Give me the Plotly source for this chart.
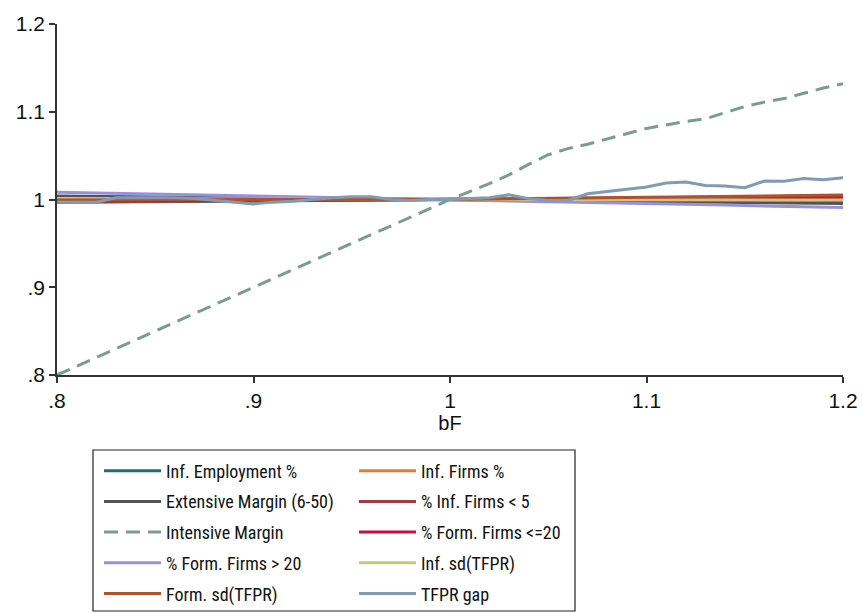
import plotly.graph_objects as go

bF = [0.80, 0.81, 0.82, 0.83, 0.84, 0.85, 0.86, 0.87, 0.88, 0.89,
      0.90, 0.91, 0.92, 0.93, 0.94, 0.95, 0.96, 0.97, 0.98, 0.99,
      1.00, 1.01, 1.02, 1.03, 1.04, 1.05, 1.06, 1.07, 1.08, 1.09,
      1.10, 1.11, 1.12, 1.13, 1.14, 1.15, 1.16, 1.17, 1.18, 1.19, 1.20]

inf_employment = [0.9968, 0.9969, 0.9971, 0.9972, 0.9974, 0.9975, 0.9977, 0.9978, 0.9980, 0.9981,
                  0.9983, 0.9985, 0.9986, 0.9988, 0.9990, 0.9991, 0.9993, 0.9995, 0.9996, 0.9998,
                  1.0000, 0.9999, 0.9999, 0.9998, 0.9998, 0.9997, 0.9997, 0.9996, 0.9996, 0.9995,
                  0.9995, 0.9994, 0.9994, 0.9993, 0.9993, 0.9992, 0.9992, 0.9991, 0.9991, 0.9990, 0.9990]
inf_firms = [0.9980, 0.9981, 0.9982, 0.9983, 0.9984, 0.9985, 0.9986, 0.9987, 0.9988, 0.9989,
             0.9990, 0.9991, 0.9992, 0.9993, 0.9994, 0.9995, 0.9996, 0.9997, 0.9998, 0.9999,
             1.0000, 1.0002, 1.0003, 1.0005, 1.0006, 1.0008, 1.0009, 1.0011, 1.0012, 1.0014,
             1.0015, 1.0017, 1.0018, 1.0020, 1.0021, 1.0023, 1.0024, 1.0026, 1.0027, 1.0029, 1.0030]
extensive = [1.0040, 1.0038, 1.0036, 1.0034, 1.0032, 1.0030, 1.0028, 1.0026, 1.0024, 1.0022,
             1.0020, 1.0018, 1.0016, 1.0014, 1.0012, 1.0010, 1.0008, 1.0006, 1.0004, 1.0002,
             1.0000, 0.9998, 0.9996, 0.9993, 0.9991, 0.9989, 0.9987, 0.9984, 0.9982, 0.9980,
             0.9978, 0.9975, 0.9973, 0.9971, 0.9969, 0.9966, 0.9964, 0.9962, 0.9960, 0.9957, 0.9955]
inf_firms_lt5 = [0.9972, 0.9973, 0.9975, 0.9976, 0.9978, 0.9979, 0.9980, 0.9982, 0.9983, 0.9985,
                 0.9986, 0.9987, 0.9989, 0.9990, 0.9992, 0.9993, 0.9994, 0.9996, 0.9997, 0.9999,
                 1.0000, 1.0002, 1.0004, 1.0006, 1.0008, 1.0010, 1.0012, 1.0014, 1.0016, 1.0018,
                 1.0020, 1.0022, 1.0024, 1.0026, 1.0028, 1.0030, 1.0032, 1.0034, 1.0036, 1.0038, 1.0040]
intensive = [0.800, 0.810, 0.820, 0.830, 0.840, 0.850, 0.860, 0.870, 0.880, 0.890,
             0.900, 0.910, 0.920, 0.930, 0.940, 0.950, 0.960, 0.970, 0.980, 0.990,
             1.000, 1.009, 1.018, 1.028, 1.040, 1.051, 1.058, 1.063, 1.069, 1.075,
             1.081, 1.085, 1.089, 1.092, 1.099, 1.106, 1.111, 1.115, 1.121, 1.127, 1.132]
form_firms_le20 = [0.9990, 0.9990, 0.9991, 0.9991, 0.9992, 0.9992, 0.9993, 0.9993, 0.9994, 0.9994,
                   0.9995, 0.9995, 0.9996, 0.9996, 0.9997, 0.9997, 0.9998, 0.9998, 0.9999, 0.9999,
                   1.0000, 1.0001, 1.0002, 1.0003, 1.0004, 1.0005, 1.0006, 1.0007, 1.0008, 1.0009,
                   1.0010, 1.0011, 1.0012, 1.0013, 1.0014, 1.0015, 1.0016, 1.0017, 1.0018, 1.0019, 1.0020]
form_firms_gt20 = [1.0082, 1.0078, 1.0074, 1.0070, 1.0066, 1.0062, 1.0058, 1.0054, 1.0050, 1.0046,
                   1.0042, 1.0038, 1.0034, 1.0030, 1.0026, 1.0021, 1.0017, 1.0013, 1.0008, 1.0004,
                   1.0000, 0.9995, 0.9991, 0.9986, 0.9982, 0.9977, 0.9972, 0.9968, 0.9963, 0.9959,
                   0.9954, 0.9949, 0.9945, 0.9940, 0.9936, 0.9931, 0.9926, 0.9922, 0.9917, 0.9913, 0.9908]
inf_sd_tfpr = [1.0010, 1.0010, 1.0009, 1.0009, 1.0008, 1.0008, 1.0007, 1.0007, 1.0006, 1.0006,
               1.0005, 1.0005, 1.0004, 1.0004, 1.0003, 1.0003, 1.0002, 1.0002, 1.0001, 1.0001,
               1.0000, 1.0000, 0.9999, 0.9999, 0.9999, 0.9998, 0.9998, 0.9998, 0.9997, 0.9997,
               0.9997, 0.9996, 0.9996, 0.9996, 0.9995, 0.9995, 0.9995, 0.9994, 0.9994, 0.9994, 0.9993]
form_sd_tfpr = [0.9995, 0.9995, 0.9996, 0.9996, 0.9996, 0.9996, 0.9997, 0.9997, 0.9997, 0.9997,
                0.9998, 0.9998, 0.9998, 0.9998, 0.9999, 0.9999, 0.9999, 0.9999, 1.0000, 1.0000,
                1.0000, 1.0003, 1.0005, 1.0008, 1.0010, 1.0013, 1.0015, 1.0018, 1.0020, 1.0023,
                1.0025, 1.0028, 1.0030, 1.0033, 1.0035, 1.0038, 1.0040, 1.0043, 1.0045, 1.0048, 1.0050]
tfpr_gap = [0.997, 0.997, 0.997, 1.002, 1.002, 1.002, 1.002, 1.001, 0.999, 0.997,
            0.995, 0.997, 0.998, 1.000, 1.002, 1.003, 1.003, 1.000, 0.999, 1.000,
            1.000, 1.001, 1.002, 1.0055, 1.001, 0.999, 0.999, 1.0066, 1.0093, 1.0123,
            1.0143, 1.0188, 1.020, 1.016, 1.0155, 1.0135, 1.021, 1.0209, 1.0238, 1.0226, 1.0249]

names = ["Inf. Employment %", "Inf. Firms %", "Extensive Margin (6-50)", "% Inf. Firms < 5",
         "Intensive Margin", "% Form. Firms <=20", "% Form. Firms > 20", "Inf. sd(TFPR)",
         "Form. sd(TFPR)", "TFPR gap"]
series = [inf_employment, inf_firms, extensive, inf_firms_lt5, intensive,
          form_firms_le20, form_firms_gt20, inf_sd_tfpr, form_sd_tfpr, tfpr_gap]
colors = ["#1d6f70", "#e8792e", "#545454", "#a03c48", "#7b9c8e",
          "#cc0c42", "#9a8fdc", "#cfc47e", "#b0522a", "#7f9bb6"]
dashes = ["solid", "solid", "solid", "solid", "14px,8px",
          "solid", "solid", "solid", "solid", "solid"]

FONT = "Liberation Sans, Arial, sans-serif"
LEG_FONT = "Roboto Condensed, Liberation Sans Narrow, Liberation Sans, Arial, sans-serif"

fig = go.Figure()
for i, (nm, ys, c, d) in enumerate(zip(names, series, colors, dashes)):
    fig.add_trace(go.Scatter(
        x=bF, y=ys, mode="lines", name=nm,
        line=dict(color=c, width=3, dash=d),
        legend="legend" if i % 2 == 0 else "legend2",
        legendgroup=f"g{i}",
        hoverinfo="skip",
    ))

W, H = 862, 613
ml, mr, mt, mb = 57, 19, 24, 238
pw, ph = W - ml - mr, H - mt - mb

def px_x(p):
    return (p - ml) / pw

def px_y(p):
    return (H - mb - p) / ph

legend_common = dict(
    orientation="v", bgcolor="rgba(0,0,0,0)", borderwidth=0,
    font=dict(family=LEG_FONT, size=18, color="#111"),
    tracegroupgap=4.3, itemwidth=57, yanchor="top", xanchor="left",
)

fig.update_layout(
    width=W, height=H,
    margin=dict(l=ml, r=mr, t=mt, b=mb, autoexpand=False),
    paper_bgcolor="white", plot_bgcolor="white",
    font=dict(family=FONT, size=20, color="#111"),
    legend=dict(**legend_common, x=px_x(99), y=px_y(452.5)),
    legend2=dict(**legend_common, x=px_x(354), y=px_y(452.5)),
    shapes=[dict(type="rect", xref="paper", yref="paper",
                 x0=px_x(93), x1=px_x(575), y0=px_y(611), y1=px_y(450),
                 line=dict(color="#222", width=1.2), fillcolor="rgba(0,0,0,0)")],
    xaxis=dict(
        range=[0.8, 1.2], tickvals=[0.8, 0.9, 1.0, 1.1, 1.2],
        ticktext=[".8", ".9", "1", "1.1", "1.2"],
        showgrid=False, zeroline=False, showline=True, linecolor="#333", linewidth=1.5,
        ticks="outside", ticklen=6, tickwidth=1.5, tickcolor="#333",
        tickfont=dict(size=21, color="#111"),
        title=dict(text="bF", font=dict(size=20, color="#111"), standoff=2),
    ),
    yaxis=dict(
        range=[0.8, 1.2], tickvals=[0.8, 0.9, 1.0, 1.1, 1.2],
        ticktext=[".8", ".9", "1", "1.1", "1.2"],
        showgrid=False, zeroline=False, showline=True, linecolor="#333", linewidth=1.5,
        ticks="outside", ticklen=6, tickwidth=1.5, tickcolor="#333",
        tickfont=dict(size=21, color="#111"),
    ),
)

fig.write_html("out.html")
